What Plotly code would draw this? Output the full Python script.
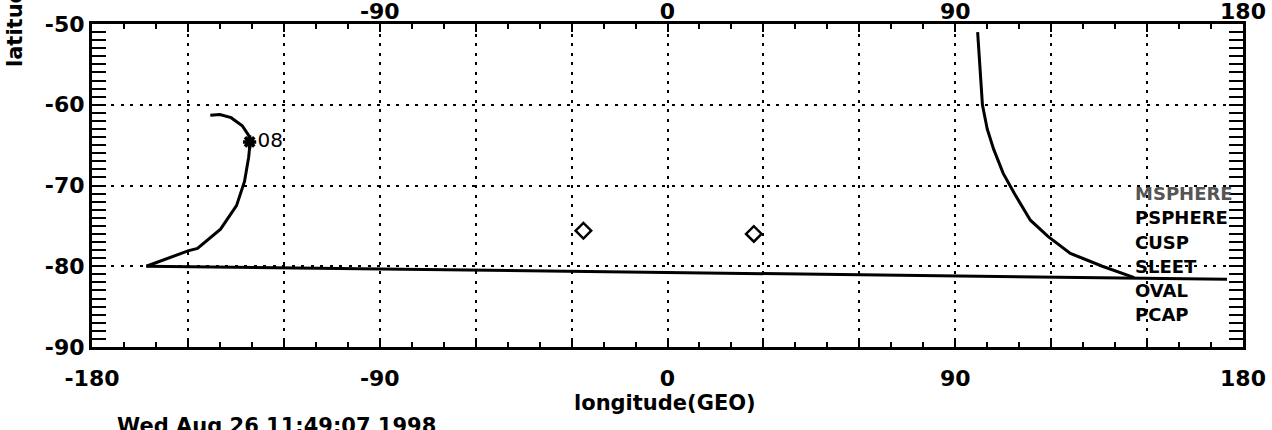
import plotly.graph_objects as go

# Footprint track (GEO), western branch ending at the "08" hour mark
west_lon = [-143, -140, -136.5, -133, -131, -130.5, -131, -132.3, -134.8, -139.8, -147, -150, -163]
west_lat = [-61.3, -61.2, -61.6, -62.6, -63.8, -64.6, -66.5, -69.5, -72.5, -75.4, -77.8, -78.1, -80]

# Wrap-around segment joining the two branches
wrap_lon = [-163, 175]
wrap_lat = [-80.0, -81.6]

# Eastern branch
east_lon = [97, 98.5, 100, 102, 105, 108.5, 113.5, 119, 126, 136, 146]
east_lat = [-51, -60, -63, -65.5, -68.5, -71, -74.3, -76.3, -78.4, -80.0, -81.4]

# Hour mark
mark_lon = [-130.7]
mark_lat = [-64.6]
mark_text = ["08"]

# Station positions
stn_lon = [-26.3, 27.0]
stn_lat = [-75.6, -76.0]

# Region labels
region_names = ["MSPHERE", "PSPHERE", "CUSP", "SLEET", "OVAL", "PCAP"]
region_lat = [-71, -74, -77, -80, -83, -86]
region_lon = 145.5

x_major = list(range(-180, 181, 30))
x_labels = [str(v) if v % 90 == 0 else "" for v in x_major]
y_major = [-50, -60, -70, -80, -90]
y_labels = [str(v) for v in y_major]

FONT = "DejaVu Sans"
BLACK = "black"
dash = "3px,6.5px"


def bold(size, color=BLACK):
    return dict(family=FONT, size=size, color=color, weight="bold")


fig = go.Figure()

fig.add_trace(go.Scatter(x=west_lon, y=west_lat, mode="lines",
                         line=dict(color=BLACK, width=3), showlegend=False))
fig.add_trace(go.Scatter(x=wrap_lon, y=wrap_lat, mode="lines",
                         line=dict(color=BLACK, width=3), showlegend=False))
fig.add_trace(go.Scatter(x=east_lon, y=east_lat, mode="lines",
                         line=dict(color=BLACK, width=3), showlegend=False))
fig.add_trace(go.Scatter(x=mark_lon, y=mark_lat, mode="markers+text",
                         marker=dict(symbol="asterisk-open", size=11, color=BLACK,
                                     line=dict(color=BLACK, width=3.5)),
                         text=mark_text, textposition="middle right",
                         textfont=dict(family=FONT, size=20, color=BLACK),
                         showlegend=False))
fig.add_trace(go.Scatter(x=stn_lon, y=stn_lat, mode="markers",
                         marker=dict(symbol="diamond-open", size=12, color=BLACK,
                                     line=dict(color=BLACK, width=2.5)),
                         showlegend=False))
# Top axis carrier
fig.add_trace(go.Scatter(x=[0], y=[-70], xaxis="x2", mode="markers",
                         marker=dict(opacity=0), showlegend=False, hoverinfo="skip"))

for name, lat in zip(region_names, region_lat):
    fig.add_annotation(x=region_lon, y=lat, xref="x", yref="y", text=name,
                       showarrow=False, xanchor="left", yanchor="middle",
                       font=bold(18, "#555555" if name == "MSPHERE" else BLACK))

axis_common = dict(showline=True, linecolor=BLACK, linewidth=3, mirror="allticks",
                   zeroline=False, ticks="inside", tickcolor=BLACK, tickwidth=2,
                   tickfont=bold(22), automargin=False,
                   showgrid=True, gridcolor=BLACK, gridwidth=2, griddash=dash)

fig.update_layout(
    width=1272, height=430,
    margin=dict(l=92, r=29, t=24, b=83),
    paper_bgcolor="white", plot_bgcolor="white",
    xaxis=dict(range=[-180, 180], tickmode="array", tickvals=x_major, ticktext=x_labels,
               ticklen=8, ticklabelstandoff=10,
               minor=dict(dtick=10, tick0=0, ticklen=5, ticks="inside",
                          tickcolor=BLACK, tickwidth=2, showgrid=False),
               **axis_common),
    xaxis2=dict(range=[-180, 180], overlaying="x", side="top", tickmode="array",
                tickvals=[-90, 0, 90, 180], ticktext=["-90", "0", "90", "180"],
                showgrid=False, showline=False, ticks="", zeroline=False,
                automargin=False, tickfont=bold(22)),
    yaxis=dict(range=[-90, -50], tickmode="array", tickvals=y_major, ticktext=y_labels,
               ticklen=14,
               minor=dict(dtick=1, tick0=0, ticklen=10, ticks="inside",
                          tickcolor=BLACK, tickwidth=2, showgrid=False),
               **axis_common),
)


# Axis titles and time stamp, positioned in pixels of the 1272x430 page
def py(p):
    return (347 - p) / 323.0


def px(p):
    return (p - 92) / 1151.0


fig.add_annotation(x=px(665), y=py(403), xref="paper", yref="paper",
                   text="longitude(GEO)", showarrow=False,
                   xanchor="center", yanchor="middle", font=bold(21))
fig.add_annotation(x=px(15), y=py(-14), xref="paper", yref="paper",
                   text="latitude(GEO)", textangle=-90, showarrow=False,
                   xanchor="center", yanchor="middle", font=bold(21))
fig.add_annotation(x=px(115), y=py(426), xref="paper", yref="paper",
                   text="Wed Aug 26 11:49:07 1998", showarrow=False,
                   xanchor="left", yanchor="middle", font=bold(21))

fig.write_html("out.html")
